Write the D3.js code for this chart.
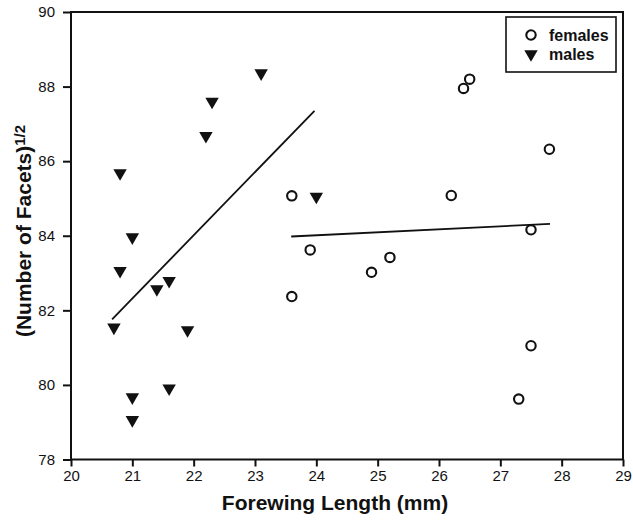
<!DOCTYPE html>
<html lang="en">
<head>
    <meta charset="UTF-8">
    <title>Facets vs Forewing Length</title>
    <style>
        body{ margin:0; background:#fff; }
        svg text{ font-family:"Liberation Sans", Arial, sans-serif; fill:#111; }
        .axis .domain{ display:none; }
        .axis line{ stroke:#111; stroke-width:2; }
        .axis text{ font-size:15px; }
    </style>
</head>
<body>
    <svg width="633" height="520"></svg>
    <script src="https://d3js.org/d3.v7.min.js"></script>
    <script>
        // data
        var femaleLength = [23.6, 23.6, 23.9, 24.9, 25.2, 26.2, 26.4, 26.5, 27.8, 27.5, 27.5, 27.3];
        var femaleFacets = [85.07, 82.37, 83.62, 83.02, 83.42, 85.08, 87.95, 88.2, 86.32, 84.16, 81.05, 79.62];
        var maleLength = [20.7, 20.8, 20.8, 21.0, 21.0, 21.0, 21.4, 21.6, 21.6, 21.9, 22.2, 22.3, 23.1, 24.0];
        var maleFacets = [81.54, 85.68, 83.06, 83.96, 79.67, 79.06, 82.57, 82.79, 79.91, 81.47, 86.68, 87.6, 88.36, 85.05];
        // fitted lines, end points [x0, y0, x1, y1]
        var maleFit = [20.67, 81.76, 23.97, 87.35];
        var femaleFit = [23.59, 83.98, 27.81, 84.32];
        var xTicks = [20, 21, 22, 23, 24, 25, 26, 27, 28, 29];
        var yTicks = [78, 80, 82, 84, 86, 88, 90];
        var seriesNames = ["females", "males"];

        var svg = d3.select("svg"),
            margin = {top: 12, right: 10, bottom: 60.5, left: 71},
            width = +svg.attr("width") - margin.left - margin.right,
            height = +svg.attr("height") - margin.top - margin.bottom,
            g = svg.append("g").attr("transform", "translate(" + margin.left + "," + margin.top + ")");

        var x = d3.scaleLinear().domain([20, 29]).range([0, width]);
        var y = d3.scaleLinear().domain([78, 90]).range([height, 0]);

        g.append("g")
            .attr("class", "axis")
            .attr("transform", "translate(0," + height + ")")
            .call(d3.axisBottom(x).tickValues(xTicks).tickSize(7).tickSizeOuter(0).tickPadding(4).tickFormat(d3.format("d")));

        g.append("g")
            .attr("class", "axis")
            .call(d3.axisLeft(y).tickValues(yTicks).tickSize(8).tickSizeOuter(0).tickPadding(8).tickFormat(d3.format("d")));

        // frame
        g.append("rect")
            .attr("width", width)
            .attr("height", height)
            .attr("fill", "none")
            .attr("stroke", "#111")
            .attr("stroke-width", 2);

        // regression lines
        [maleFit, femaleFit].forEach(function(f){
            g.append("line")
                .attr("x1", x(f[0])).attr("y1", y(f[1]))
                .attr("x2", x(f[2])).attr("y2", y(f[3]))
                .attr("stroke", "#111")
                .attr("stroke-width", 1.8);
        });

        var tri = d3.symbol().type(d3.symbolTriangle).size(78);

        g.append("g").selectAll("circle")
            .data(femaleLength)
            .enter().append("circle")
            .attr("cx", function(d){ return x(d); })
            .attr("cy", function(d, i){ return y(femaleFacets[i]); })
            .attr("r", 4.7)
            .attr("fill", "none")
            .attr("stroke", "#111")
            .attr("stroke-width", 2.1);

        g.append("g").selectAll("path")
            .data(maleLength)
            .enter().append("path")
            .attr("d", tri)
            .attr("transform", function(d, i){ return "translate(" + x(d) + "," + y(maleFacets[i]) + ") rotate(180)"; })
            .attr("fill", "#111");

        // axis titles
        svg.append("text")
            .attr("x", 335)
            .attr("y", 510)
            .attr("text-anchor", "middle")
            .attr("font-size", 21)
            .attr("font-weight", "bold")
            .text("Forewing Length (mm)");

        var yt = svg.append("text")
            .attr("transform", "translate(31,231) rotate(-90)")
            .attr("text-anchor", "middle")
            .attr("font-size", 21)
            .attr("font-weight", "bold");
        yt.append("tspan").text("(Number of Facets)");
        yt.append("tspan").attr("dy", -6).attr("font-size", 15).text("1/2");

        // legend
        var lg = svg.append("g").attr("transform", "translate(506,17)");
        lg.append("rect")
            .attr("width", 110)
            .attr("height", 55)
            .attr("fill", "#fff")
            .attr("stroke", "#111")
            .attr("stroke-width", 1.6);
        var item = lg.selectAll("g")
            .data(seriesNames)
            .enter().append("g")
            .attr("transform", function(d, i){ return "translate(0," + (18 + i * 19) + ")"; });
        item.each(function(d, i){
            var s = d3.select(this);
            if (i === 0) {
                s.append("circle").attr("cx", 25).attr("cy", 0).attr("r", 4.7)
                    .attr("fill", "none").attr("stroke", "#111").attr("stroke-width", 2.1);
            } else {
                s.append("path").attr("d", tri).attr("transform", "translate(25,0) rotate(180)").attr("fill", "#111");
            }
        });
        item.append("text")
            .attr("x", 43)
            .attr("dy", "0.35em")
            .attr("font-size", 16)
            .attr("font-weight", "bold")
            .text(function(d){ return d; });
    </script>
</body>
</html>
